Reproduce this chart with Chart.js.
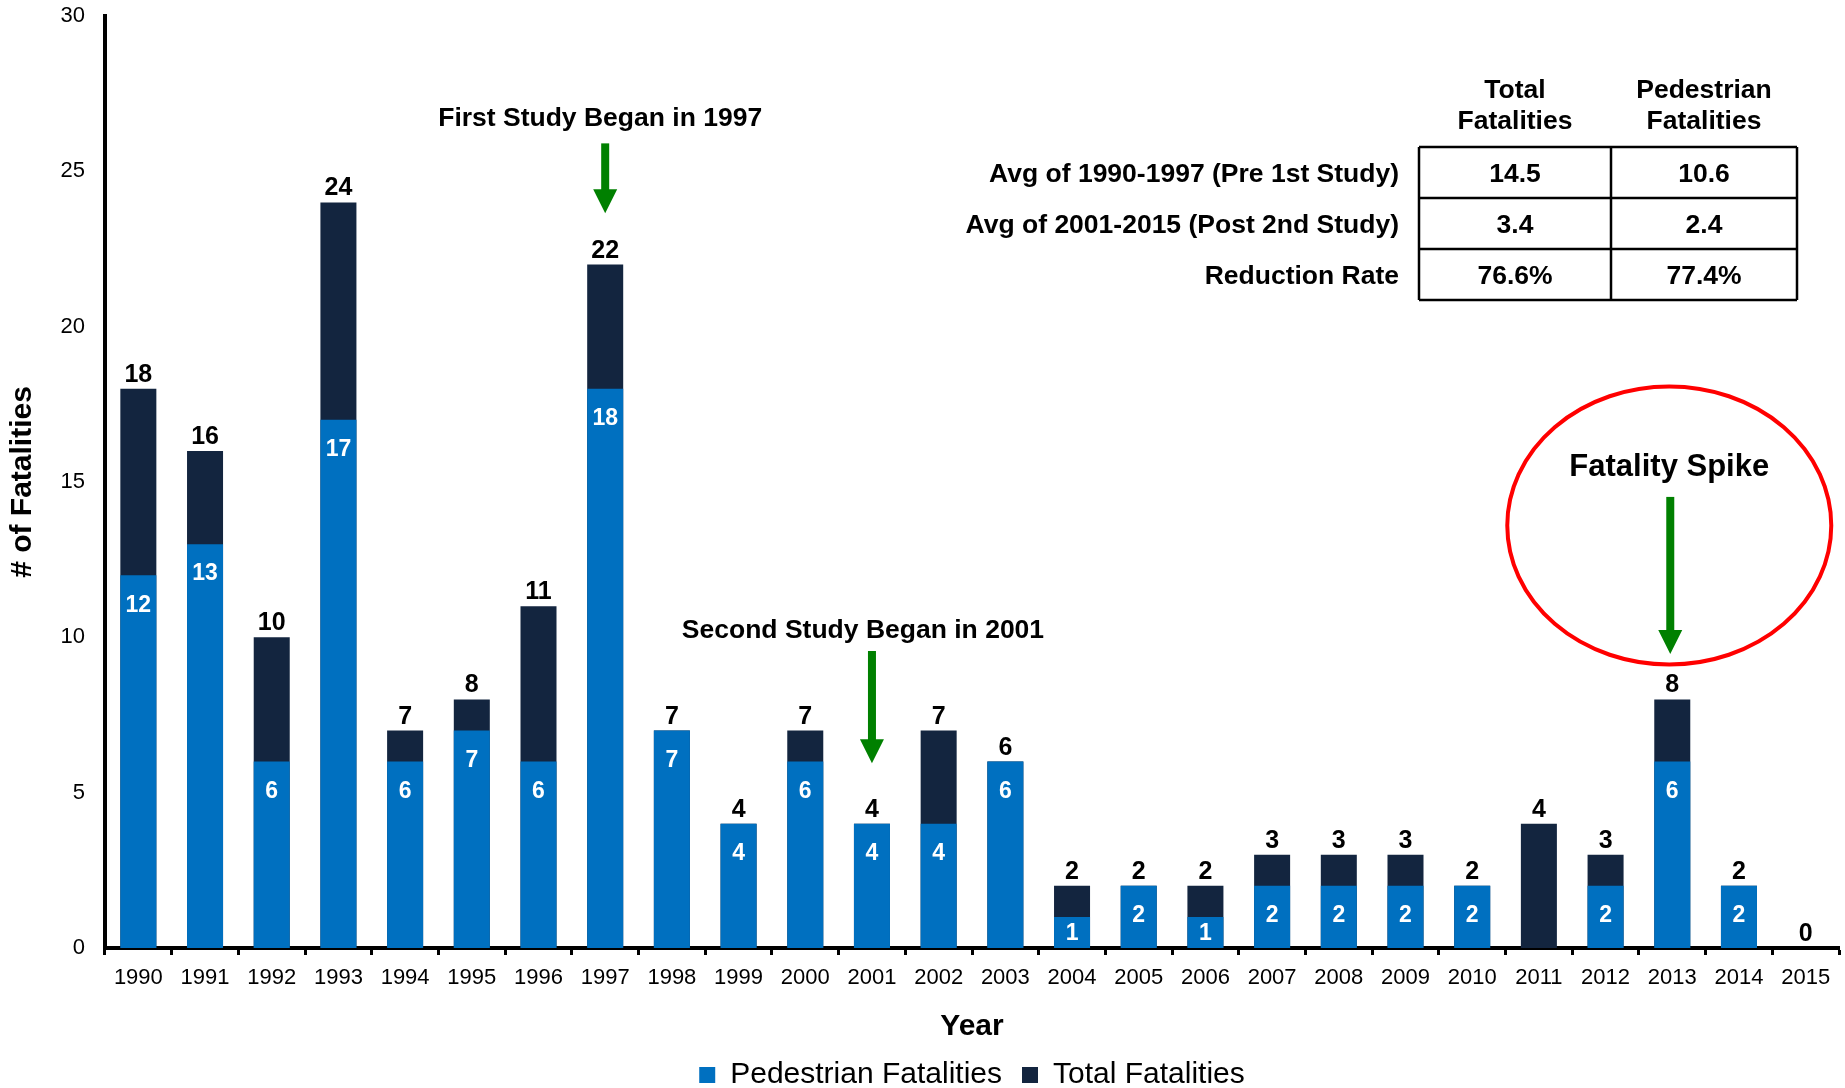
<!DOCTYPE html>
<html>
<head>
<meta charset="utf-8">
<title>Fatalities by Year</title>
<script src="https://cdn.jsdelivr.net/npm/chart.js@4.4.1/dist/chart.umd.min.js"></script>
<style>
  html, body { margin: 0; padding: 0; background: #ffffff; }
  #wrap { width: 1845px; height: 1088px; position: relative; }
</style>
</head>
<body>
<div id="wrap"><canvas id="chart" width="1845" height="1088"></canvas></div>
<script>
// ---- data ----
const years = ['1990','1991','1992','1993','1994','1995','1996','1997','1998','1999','2000','2001','2002',
               '2003','2004','2005','2006','2007','2008','2009','2010','2011','2012','2013','2014','2015'];
const pedestrianFatalities = [12,13,6,17,6,7,6,18,7,4,6,4,4,6,1,2,1,2,2,2,2,0,2,6,2,0];
const totalFatalities      = [18,16,10,24,7,8,11,22,7,4,7,4,7,6,2,2,2,3,3,3,2,4,3,8,2,0];
const yTicks = [0, 5, 10, 15, 20, 25, 30];

// summary table text
const tableHeaders = [['Total', 'Fatalities'], ['Pedestrian', 'Fatalities']];
const tableRowLabels = ['Avg of 1990-1997 (Pre 1st Study)', 'Avg of 2001-2015 (Post 2nd Study)', 'Reduction Rate'];
const preRange = ['1990', '1997'];
const postRange = ['2001', '2015'];

// call-outs above the bars
const callouts = [
  { year: '1997', text: 'First Study Began in 1997', textAt: 26.7, from: 25.9, to: 23.65 },
  { year: '2001', text: 'Second Study Began in 2001', textAt: 10.23, from: 9.56, to: 5.95 },
  { year: '2013', text: 'Fatality Spike', textAt: 15.48, from: 14.52, to: 9.46, ring: 13.6 }
];

const FONT = '"Liberation Sans", Arial, Helvetica, sans-serif';
const BLUE = '#0070C0';
const NAVY = '#13253F';
const GREEN = '#008000';

function avg(arr, a, b) {
  const i0 = years.indexOf(a), i1 = years.indexOf(b);
  const part = arr.slice(i0, i1 + 1);
  return part.reduce((s, v) => s + v, 0) / part.length;
}

const totPre = avg(totalFatalities, preRange[0], preRange[1]);
const totPost = avg(totalFatalities, postRange[0], postRange[1]);
const pedPre = avg(pedestrianFatalities, preRange[0], preRange[1]);
const pedPost = avg(pedestrianFatalities, postRange[0], postRange[1]);
const tableCells = [
  [totPre.toFixed(1), pedPre.toFixed(1)],
  [totPost.toFixed(1), pedPost.toFixed(1)],
  [((totPre - totPost) / totPre * 100).toFixed(1) + '%', ((pedPre - pedPost) / pedPre * 100).toFixed(1) + '%']
];

// value labels: totals above each bar, pedestrian counts inside the blue bars
const barLabels = {
  id: 'barLabels',
  afterDatasetsDraw(chart) {
    const ctx = chart.ctx;
    const ped = chart.getDatasetMeta(0).data;
    const tot = chart.getDatasetMeta(1).data;
    ctx.save();
    ctx.textAlign = 'center';
    ctx.textBaseline = 'alphabetic';
    ctx.fillStyle = '#000';
    ctx.font = `bold 25px ${FONT}`;
    totalFatalities.forEach((v, i) => {
      const b = tot[i];
      ctx.fillText(String(v), b.x, b.y - 7);
    });
    ctx.fillStyle = '#fff';
    ctx.font = `bold 23px ${FONT}`;
    ctx.textBaseline = 'middle';
    pedestrianFatalities.forEach((v, i) => {
      if (v <= 0) return;
      const b = ped[i];
      const y = Math.min(b.y + 29, (b.y + b.base) / 2);
      ctx.fillText(String(v), b.x, y + 1);
    });
    ctx.restore();
  }
};

function drawArrow(ctx, x, yTop, yTip) {
  const shaft = 8, headW = 24, headL = 24;
  ctx.fillStyle = GREEN;
  ctx.fillRect(x - shaft / 2, yTop, shaft, (yTip - headL) - yTop + 1);
  ctx.beginPath();
  ctx.moveTo(x - headW / 2, yTip - headL);
  ctx.lineTo(x + headW / 2, yTip - headL);
  ctx.lineTo(x, yTip);
  ctx.closePath();
  ctx.fill();
}

// annotations and the summary table
const extras = {
  id: 'extras',
  afterDraw(chart) {
    const ctx = chart.ctx;
    const xs = chart.scales.x, ys = chart.scales.y;
    ctx.save();

    callouts.forEach(c => {
      const x = xs.getPixelForValue(years.indexOf(c.year));
      if (c.ring !== undefined) {
        ctx.strokeStyle = '#FF0000';
        ctx.lineWidth = 4;
        ctx.beginPath();
        ctx.ellipse(x - 3, ys.getPixelForValue(c.ring), 162, 139, 0, 0, Math.PI * 2);
        ctx.stroke();
      }
      ctx.fillStyle = '#000';
      ctx.textAlign = 'center';
      ctx.textBaseline = 'middle';
      ctx.font = `bold ${c.ring !== undefined ? 31 : 26.5}px ${FONT}`;
      ctx.fillText(c.text, x - (c.ring !== undefined ? 3 : (c.year === '2001' ? 9 : 5)), ys.getPixelForValue(c.textAt));
      drawArrow(ctx, c.ring !== undefined ? x - 2 : x, ys.getPixelForValue(c.from), ys.getPixelForValue(c.to));
    });

    // summary table
    const colX = [1419, 1611, 1797];
    const rowY = [147, 198, 249, 300];
    ctx.font = `bold 26.5px ${FONT}`;
    ctx.fillStyle = '#000';
    ctx.textBaseline = 'middle';
    ctx.textAlign = 'center';
    tableHeaders.forEach((h, j) => {
      const cx = (colX[j] + colX[j + 1]) / 2;
      ctx.fillText(h[0], cx, 91);
      ctx.fillText(h[1], cx, 122);
    });
    tableRowLabels.forEach((lbl, r) => {
      const cy = (rowY[r] + rowY[r + 1]) / 2 + 2;
      ctx.textAlign = 'right';
      ctx.fillText(lbl, 1399, cy);
      ctx.textAlign = 'center';
      tableCells[r].forEach((val, j) => {
        ctx.fillText(val, (colX[j] + colX[j + 1]) / 2, cy);
      });
    });
    ctx.strokeStyle = '#000';
    ctx.lineWidth = 2.5;
    ctx.beginPath();
    rowY.forEach(y => { ctx.moveTo(colX[0], y); ctx.lineTo(colX[2], y); });
    colX.forEach(x => { ctx.moveTo(x, rowY[0]); ctx.lineTo(x, rowY[3]); });
    ctx.stroke();

    ctx.restore();
  }
};

new Chart(document.getElementById('chart'), {
  type: 'bar',
  data: {
    labels: years,
    datasets: [
      { label: 'Pedestrian Fatalities', data: pedestrianFatalities, backgroundColor: BLUE,
        barPercentage: 0.54, categoryPercentage: 1 },
      { label: 'Total Fatalities', data: totalFatalities, backgroundColor: NAVY,
        barPercentage: 0.54, categoryPercentage: 1 }
    ]
  },
  options: {
    responsive: false,
    devicePixelRatio: 1,
    animation: false,
    layout: { padding: { top: 16, right: 6, left: 0, bottom: -12 } },
    plugins: {
      tooltip: { enabled: false },
      legend: {
        position: 'bottom',
        fullSize: false,
        labels: {
          color: '#000',
          font: { size: 30, family: FONT },
          boxWidth: 16,
          boxHeight: 16,
          padding: 20
        }
      }
    },
    scales: {
      x: {
        stacked: true,
        offset: true,
        z: 1,
        afterFit(scale) { scale.height = 92; },
        ticks: { color: '#000', font: { size: 22, family: FONT, lineHeight: 1 }, padding: 12,
                 maxRotation: 0, autoSkip: false },
        grid: { display: true, drawOnChartArea: false, drawTicks: true, tickLength: 7,
                tickWidth: 3, tickColor: '#000', offset: true },
        border: { display: true, color: '#000', width: 4 },
        title: { display: true, text: 'Year', color: '#000',
                 font: { size: 30, weight: 'bold', family: FONT, lineHeight: 1 },
                 padding: { top: 24, bottom: -2 } }
      },
      y: {
        stacked: false,
        min: 0,
        max: 30,
        z: 1,
        afterBuildTicks(scale) { scale.ticks = yTicks.map(v => ({ value: v })); },
        afterFit(scale) {
          scale.width = 105;
          scale.paddingTop = 11;
          scale.paddingBottom = 11;
        },
        ticks: { color: '#000', font: { size: 22, family: FONT, lineHeight: 1 }, padding: 20 },
        grid: { display: false, drawTicks: false },
        border: { display: true, color: '#000', width: 4 },
        title: { display: true, text: '# of Fatalities', color: '#000',
                 font: { size: 30, weight: 'bold', family: FONT, lineHeight: 1 },
                 padding: { top: 8, bottom: 0 } }
      }
    }
  },
  plugins: [barLabels, extras]
});
</script>
</body>
</html>
